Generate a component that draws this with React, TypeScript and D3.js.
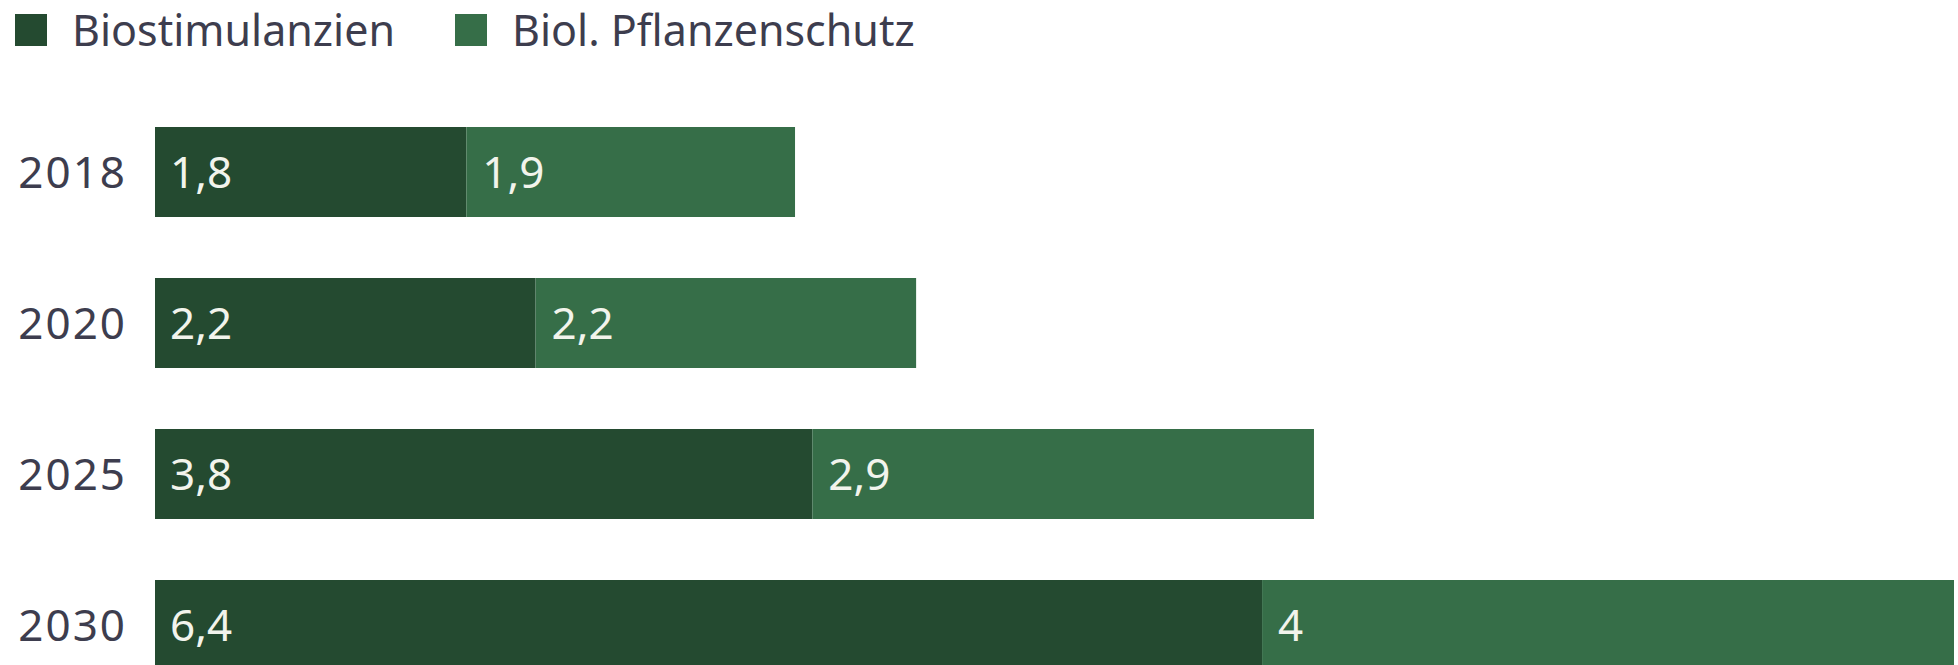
import React from "react";
import * as d3 from "d3";

// data (Mrd. USD, German decimal comma)
const years = ["2018", "2020", "2025", "2030"];
const biostimulanzien = [1.8, 2.2, 3.8, 6.4];
const pflanzenschutz = [1.9, 2.2, 2.9, 4];
const seriesNames = ["Biostimulanzien", "Biol. Pflanzenschutz"];
const seriesColors = ["#244a30", "#366e48"];

const width = 1958;
const height = 665;
const fontFamily = "'Noto Sans', Roboto, sans-serif";

const fmt = (v: number) => String(v).replace(".", ",");

export default function App() {
  const rows = years.map((year, i) => ({
    year,
    a: biostimulanzien[i],
    b: pflanzenschutz[i],
  }));

  const xScale = d3
    .scaleLinear()
    .domain([0, d3.max(rows, (d) => d.a + d.b) as number])
    .range([155, 1954]);

  const yScale = d3
    .scaleBand()
    .domain(years)
    .range([127, 670])
    .paddingInner(0.404)
    .paddingOuter(0);

  const bw = yScale.bandwidth();

  return (
    <svg
      width={width}
      height={height}
      style={{ position: "absolute", left: 0, top: 0, background: "#fff" }}
    >
      {/* legend */}
      <g>
        <rect x={15} y={14} width={32} height={32} fill={seriesColors[0]} />
        <text x={72} y={46} fontSize={43} fill="#3d3d4e" fontFamily={fontFamily}>
          {seriesNames[0]}
        </text>
        <rect x={455} y={14} width={32} height={32} fill={seriesColors[1]} />
        <text x={512} y={46} fontSize={43} fill="#3d3d4e" fontFamily={fontFamily}>
          {seriesNames[1]}
        </text>
      </g>

      {rows.map((d) => {
        const y = yScale(d.year) as number;
        const x0 = xScale(0);
        const x1 = xScale(d.a);
        const x2 = xScale(d.a + d.b);
        return (
          <g key={d.year}>
            <text
              x={127}
              y={y + bw / 2}
              dy="0.36em"
              textAnchor="end"
              fontSize={44}
              letterSpacing={2}
              fill="#3d3d4e"
              fontFamily={fontFamily}
            >
              {d.year}
            </text>
            <rect x={x0} y={y} width={x1 - x0} height={bw} fill={seriesColors[0]} />
            <rect x={x1} y={y} width={x2 - x1} height={bw} fill={seriesColors[1]} />
            <text
              x={x0 + 15}
              y={y + bw / 2}
              dy="0.36em"
              fontSize={44}
              fill="#f2f4ec"
              fontFamily={fontFamily}
            >
              {fmt(d.a)}
            </text>
            <text
              x={x1 + 16}
              y={y + bw / 2}
              dy="0.36em"
              fontSize={44}
              fill="#f2f4ec"
              fontFamily={fontFamily}
            >
              {fmt(d.b)}
            </text>
          </g>
        );
      })}
    </svg>
  );
}
